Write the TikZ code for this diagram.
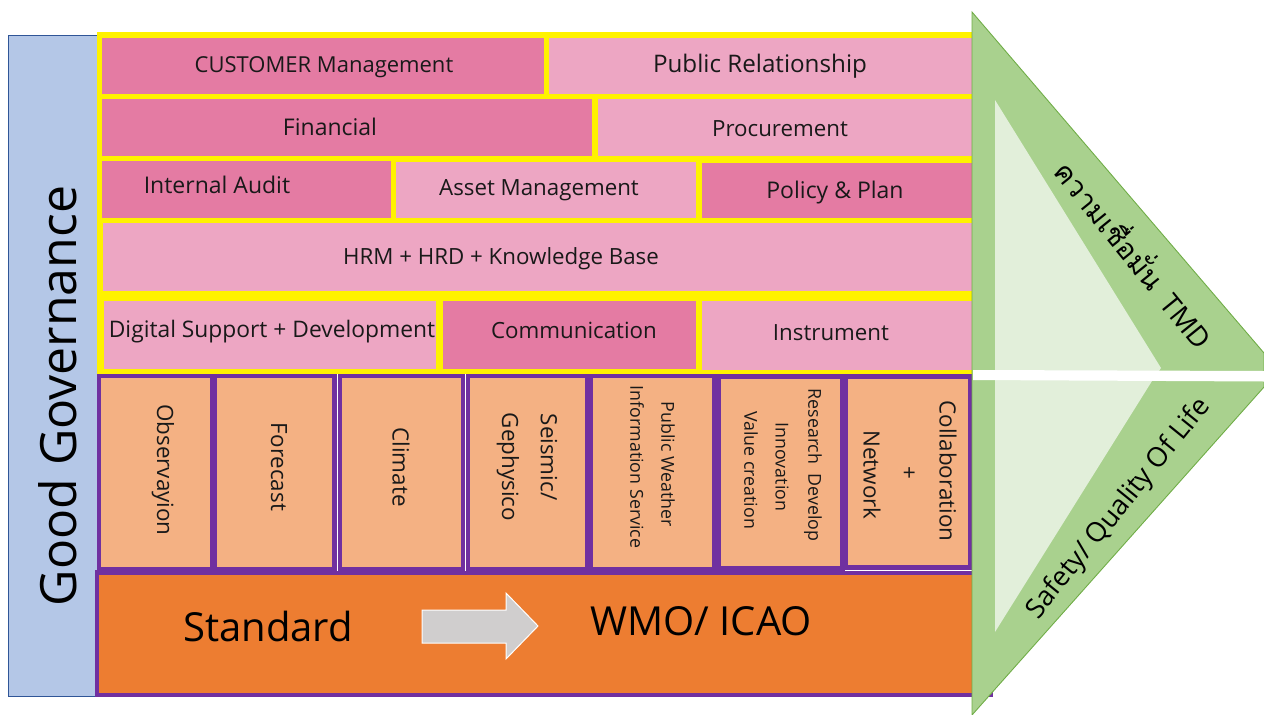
\documentclass[tikz,border=0pt]{standalone}
\usepackage{fontspec}
\setmainfont{Open Sans}
\newfontfamily\thaifont[Script=Thai]{Loma}
\definecolor{pinkD}{HTML}{E47BA3}
\definecolor{pinkL}{HTML}{EDA6C3}
\definecolor{orL}{HTML}{F4B183}
\definecolor{orD}{HTML}{ED7D31}
\definecolor{purp}{HTML}{7030A0}
\definecolor{blueL}{HTML}{B4C7E7}
\definecolor{blueD}{HTML}{2F5597}
\definecolor{grn}{HTML}{A9D18E}
\definecolor{grnD}{HTML}{70AD47}
\definecolor{grnL}{HTML}{E2EFDA}
\definecolor{gry}{HTML}{D0CECE}
\newcommand{\fs}[1]{\fontsize{#1}{#1}\selectfont}
\tikzset{
 lbl/.style={inner sep=0pt,font=\fs{22.3},text=black!90},
 vlbl/.style={inner sep=0pt,rotate=-90,font=\fs{22.4},text=black!90,align=center},
 vsmall/.style={inner sep=0pt,rotate=-90,font=\fs{17.8},text=black!90},
 dark/.style={fill=pinkD},
 light/.style={fill=pinkL},
 cell/.style={fill=orL}
}
\begin{document}
\begin{tikzpicture}[x=1pt,y=-1pt]
\useasboundingbox (0,0) rectangle (1264,715);
% left bar
\path[fill=blueL,draw=blueD,line width=.7pt] (8.5,35.5) rectangle (97,696);
\node[inner sep=0pt,rotate=90,font=\fs{50},text=black] (gov) at (58,396) {Good Governance};
% yellow band
\path[fill=yellow] (97,32) rectangle (972,374);
\path[dark] (102,38) rectangle (544,94);
\path[light] (549,38) rectangle (972,94);
\path[dark] (102,99) rectangle (592,156);
\path[light] (598,99) rectangle (972,156);
\path[dark] (102,161) rectangle (391,218);
\path[light] (396,162) rectangle (696,218);
\path[dark] (702,163) rectangle (972,218);
\path[light] (103,223) rectangle (972,291);
\path[light] (104,301) rectangle (436,369);
\path[dark] (443,301) rectangle (696,369);
\path[light] (702,301) rectangle (972,370);
\node[lbl,font=\fs{22}] (t1) at (324,67) {CUSTOMER Management};
\node[lbl,font=\fs{24.2}] (t2) at (760,66) {Public Relationship};
\node[lbl,font=\fs{23}] (t3) at (330,127) {Financial};
\node[lbl] (t4) at (780,129) {Procurement};
\node[lbl,font=\fs{23}] (t5) at (217,185) {Internal Audit};
\node[lbl] (t6) at (539,190) {Asset Management};
\node[lbl,font=\fs{23}] (t7) at (835,193) {Policy \& Plan};
\node[lbl] (t8) at (501,259) {HRM + HRD + Knowledge Base};
\node[lbl,font=\fs{22.8}] (t9) at (272,332) {Digital Support + Development};
\node[lbl] (t10) at (574,330) {Communication};
\node[lbl] (t11) at (831,333) {Instrument};
% purple band
\path[fill=purp] (97,374) rectangle (972,575);
\path[fill=purp] (95,570) rectangle (993,697);
\path[fill=orD] (99,575) rectangle (972,693);
\path[cell] (101,378) rectangle (210,567);
\path[cell] (217,378) rectangle (332,567);
\path[cell] (342,378) rectangle (461,567);
\path[cell] (470,378) rectangle (585,567);
\path[cell] (593,378) rectangle (712,567);
\path[cell] (721,379) rectangle (840,566);
\path[cell] (848,379) rectangle (968,565);
\draw[white,line width=.6pt] (337.5,374) -- (337.5,571);
\draw[white,line width=.6pt] (465.5,374) -- (465.5,571);
\draw[white,line width=.6pt] (845,570.5) -- (972,570.5);
\node[vlbl] (c1) at (163,470) {Observayion};
\node[vlbl] (c2) at (279,467) {Forecast};
\node[vlbl] (c3) at (401,467) {Climate};
\node[vlbl] (c4a) at (549,457) {Seismic/};
\node[vlbl] (c4b) at (508,467) {Gephysico};
\node[vsmall] (c5a) at (668,464) {Public Weather};
\node[vsmall] (c5b) at (637,467) {Information Service};
\node[vsmall] (c6a) at (813,465) {Research\ \ Develop};
\node[vsmall] (c6b) at (782,467) {Innovation};
\node[vsmall] (c6c) at (751,470) {Value creation};
\node[vlbl] (c7a) at (948,471) {Collaboration};
\node[vlbl] (c7b) at (908,473) {+};
\node[vlbl] (c7c) at (872,475) {Network};
% bottom
\node[inner sep=0pt,font=\fs{40},text=black] (std) at (268,626) {Standard};
\node[inner sep=0pt,font=\fs{40},text=black] (wmo) at (701,621) {WMO/ ICAO};
\path[fill=gry,draw=white,line width=1pt] (422,610) -- (506,610) -- (506,593) -- (538,626) -- (506,659) -- (506,643) -- (422,643) -- cycle;
% chevron
\path[fill=grn,draw=grnD,line width=.9pt] (972,12) -- (1264,353) -- (1264,387) -- (972,715) -- cycle;
\path[fill=grnL] (995,100) -- (1161,368) -- (1152,381) -- (995,632) -- cycle;
\path[fill=white] (973,370) -- (1264,371) -- (1264,381.5) -- (973,380) -- cycle;
\node[inner sep=0pt,rotate=-51,font=\fs{28},text=black] (th) at (1136,253) {{\thaifont\fs{28.5}ความเชื่อมั่น}\ \ TMD};
\node[inner sep=0pt,rotate=51,font=\fs{27.2},text=black] (sf) at (1119,509) {Safety/ Quality Of Life};
\end{tikzpicture}
\end{document}
